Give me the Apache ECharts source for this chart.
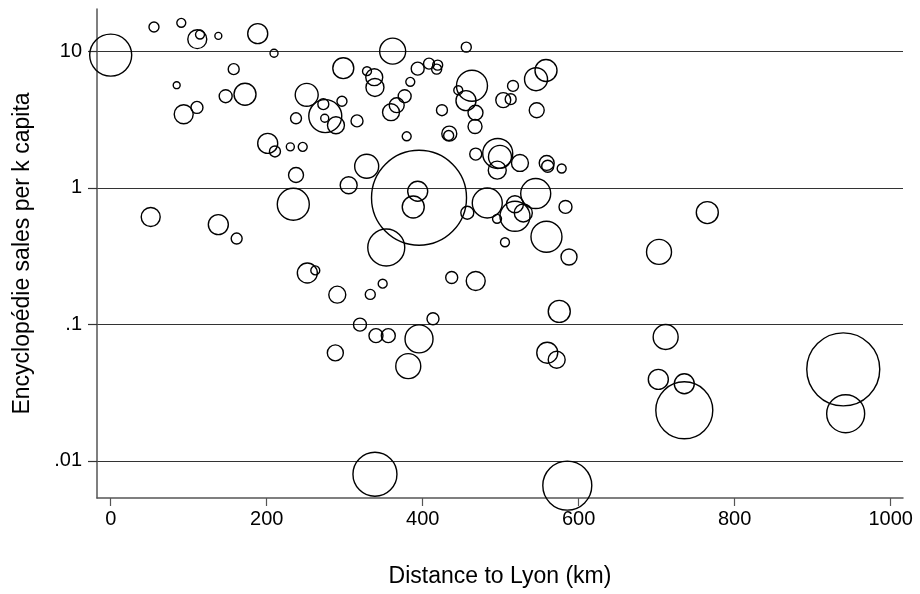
<!DOCTYPE html>
<html><head><meta charset="utf-8">
<script src="https://cdn.jsdelivr.net/npm/echarts@6/dist/echarts.min.js"></script>
<style>html,body{margin:0;padding:0;background:#fff}#c{width:920px;height:594px}</style>
</head><body><div id="c"></div>
<script>
// Distance to Lyon (km)
const distance = [
  0, 55.5, 90.5, 111, 114.5, 138, 188.5, 209.4, 157.7, 84.6,
  110.6, 93.6, 147.4, 172.2, 251.3, 298.2, 272.6, 296.5, 275.1, 274.4,
  288.8, 237.6, 315.8, 201.3, 210.6, 230.3, 246.2, 237.6, 305.1, 328.2,
  234.1,
  361.5, 455.9, 328.6, 337.9, 338.8, 393.6, 408.1, 419.2, 417.9, 384.1,
  376.9, 366.7, 359.4, 379.5, 424.7, 463.2, 445.6, 455.5, 467.7, 467.1,
  434.1, 433.3, 515.8, 503.3, 512.8, 545.3, 558.1, 546.2,
  468, 496.2, 499.1, 495.6, 524.7, 559, 560.3, 578.2, 544.9, 482.8,
  457.2, 495.3, 518.3, 529, 518.3, 583.1, 558.7, 505.5, 587.6,
  395.3, 393.6, 387.9, 353.3, 348.7, 332.8, 437.2, 468, 290.5, 319.6,
  340.1, 355.9, 395.3, 413.2, 288, 381.5, 575.1, 559.7, 571.8, 338.8,
  585.4,
  51.3, 138, 161.5, 252.1, 262.3,
  764.9, 703, 711.5, 702.1, 735.4, 735.4, 939.2, 942.3
];
// Encyclopédie sales per 1000 inhabitants
const sales = [
  9.4, 15.1, 16.2, 12.3, 13.3, 13.0, 13.5, 9.7, 7.42, 5.66,
  3.89, 3.47, 4.70, 4.86, 4.81, 7.54, 4.11, 4.32, 3.36, 3.24,
  2.88, 3.24, 3.10, 2.12, 1.85, 2.00, 2.00, 1.245, 1.047, 1.443,
  0.759,
  10.05, 10.75, 7.17, 6.48, 5.45, 7.48, 8.14, 7.94, 7.42, 5.99,
  4.70, 4.04, 3.59, 2.39, 3.71, 5.61, 5.20, 4.36, 3.56, 2.82,
  2.50, 2.42, 5.59, 4.40, 4.47, 6.26, 7.26, 3.71,
  1.77, 1.79, 1.69, 1.35, 1.525, 1.525, 1.443, 1.388, 0.910, 0.776,
  0.658, 0.594, 0.759, 0.656, 0.620, 0.726, 0.439, 0.400, 0.312,
  0.848, 0.946, 0.726, 0.366, 0.199, 0.166, 0.221, 0.208, 0.1654, 0.0997,
  0.0828, 0.0828, 0.0784, 0.110, 0.0619, 0.0495, 0.1247, 0.0621, 0.0552, 0.0080,
  0.0066,
  0.613, 0.539, 0.426, 0.238, 0.249,
  0.660, 0.340, 0.0809, 0.0396, 0.0368, 0.0235, 0.0469, 0.0222
];
// Relative weight (population) of each place
const weight = [
  441, 25, 20, 90, 20, 12, 100, 16, 30, 12,
  36, 90, 42, 121, 132, 110, 30, 25, 272, 16,
  72, 30, 36, 100, 30, 16, 20, 56, 72, 144,
  256,
  169, 25, 20, 72, 81, 42, 30, 25, 25, 20,
  42, 56, 72, 20, 30, 240, 20, 100, 56, 49,
  56, 25, 30, 56, 30, 132, 121, 56,
  36, 225, 132, 81, 72, 56, 36, 20, 225, 225,
  42, 20, 72, 81, 225, 42, 240, 20, 64,
  2256, 100, 121, 342, 20, 25, 36, 90, 72, 42,
  49, 49, 196, 36, 64, 156, 121, 110, 72, 484,
  600,
  90, 100, 30, 100, 20,
  121, 156, 156, 100, 100, 812, 1332, 361
];
const xTicks = [0, 200, 400, 600, 800, 1000];
const yTicks = [0.01, 0.1, 1, 10];
const yTickLabels = ['.01', '.1', '1', '10'];
const xTitle = 'Distance to Lyon (km)';
const yTitle = 'Encyclopédie sales per k capita';

const points = distance.map((d, i) => [d, sales[i], weight[i]]);
const FONT = "'Liberation Sans', Arial, Helvetica, sans-serif";

const chart = echarts.init(document.getElementById('c'), null, {renderer: 'canvas'});
chart.setOption({
  animation: false,
  backgroundColor: '#fff',
  grid: {left: 97, right: 17, top: 9, bottom: 96, containLabel: false},
  xAxis: {
    type: 'value',
    min: -17.56, max: 1015.8,
    name: xTitle, nameLocation: 'middle', nameGap: 67,
    nameTextStyle: {fontFamily: FONT, fontSize: 23, color: '#000'},
    axisLine: {show: true, onZero: false, lineStyle: {color: '#555', width: 1.5}},
    axisTick: {show: true, length: 8, customValues: xTicks, lineStyle: {color: '#555', width: 1.2}},
    axisLabel: {
      customValues: xTicks, margin: 11, fontFamily: FONT, fontSize: 20, color: '#000',
      formatter: v => String(Math.round(v))
    },
    splitLine: {show: false}
  },
  yAxis: {
    type: 'log', logBase: 10,
    min: 0.005355, max: 20.46,
    name: yTitle, nameLocation: 'middle', nameGap: 63, nameRotate: 90,
    nameTextStyle: {fontFamily: FONT, fontSize: 23, color: '#000'},
    axisLine: {show: true, onZero: false, lineStyle: {color: '#555', width: 1.5}},
    axisTick: {show: true, length: 9, customValues: yTicks, lineStyle: {color: '#333', width: 1.2}},
    axisLabel: {
      customValues: yTicks, margin: 15, fontFamily: FONT, fontSize: 20, color: '#000',
      formatter: v => {
        const i = yTicks.findIndex(t => Math.abs(Math.log10(t) - Math.log10(v)) < 1e-6);
        return i >= 0 ? yTickLabels[i] : '';
      }
    },
    splitLine: {show: true, showMinLine: true, showMaxLine: true, lineStyle: {color: '#333', width: 1.2}}
  },
  series: [{
    type: 'scatter',
    clip: false,
    data: points,
    symbol: 'circle',
    symbolSize: v => 2 * Math.sqrt(v[2]),
    itemStyle: {color: 'rgba(0,0,0,0)', borderColor: '#000', borderWidth: 1.4, opacity: 1},
    emphasis: {disabled: true},
    silent: true
  }]
});
</script>
</body></html>
